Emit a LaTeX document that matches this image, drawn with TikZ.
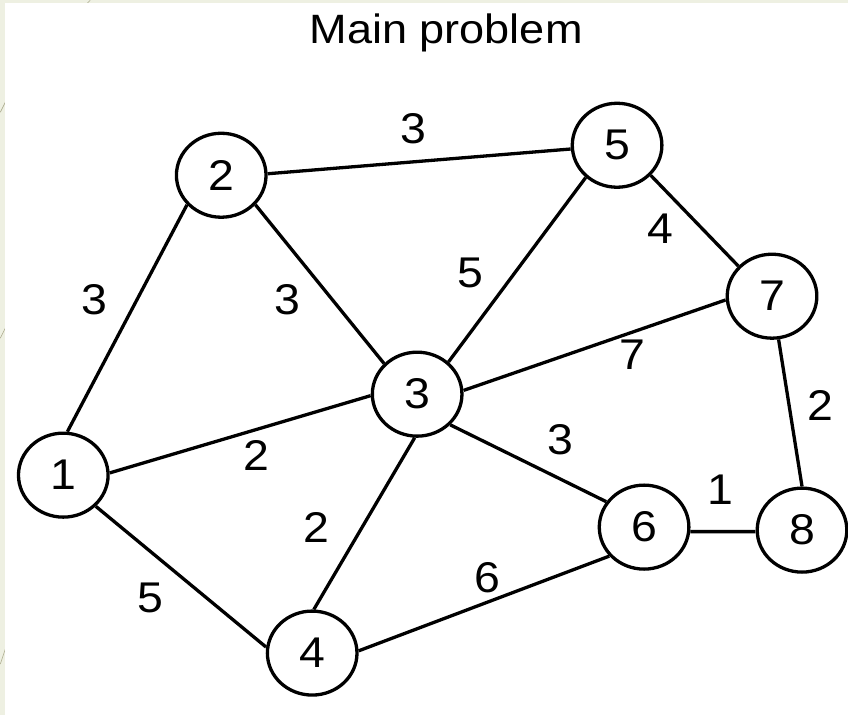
\documentclass[tikz,border=0pt]{standalone}
\usepackage{fontspec}
\setmainfont{Liberation Sans}
\usetikzlibrary{shapes.geometric}

\definecolor{slidebg}{RGB}{238,240,226}
\definecolor{slideline}{RGB}{170,170,140}

\tikzset{
  vertex/.style={ellipse, draw=black, fill=white, line width=3.3pt,
    minimum width=83pt, minimum height=84pt, inner sep=0pt,
    font=\fontsize{43}{47}\selectfont, xscale=1.08},
  edge/.style={line width=3.3pt, black},
  weight/.style={font=\fontsize{43}{47}\selectfont, inner sep=0pt, xscale=1.08},
  title/.style={font=\fontsize{41}{45}\selectfont, inner sep=0pt, xscale=1.1}
}

\begin{document}
\begin{tikzpicture}[x=1pt, y=-1pt]
  % slide background with its thin left and top margins
  \fill[slidebg] (0,0) rectangle (848,715);
  \draw[slideline, line width=0.6pt] (0,112) -- (6,100);
  \draw[slideline, line width=0.6pt] (0,338) -- (6,326);
  \draw[slideline, line width=0.6pt] (0,664) -- (8,640);
  \draw[slideline, line width=0.6pt] (86,4) -- (90,0);
  \fill[white] (5,3) rectangle (848,715);
  \useasboundingbox (0,0) rectangle (848,715);

  % heading
  \node[title, anchor=base] (head) at (446,43) {Main problem};

  % vertices
  \node[vertex] (n1) at (63,475)  {1};
  \node[vertex] (n2) at (221,175) {2};
  \node[vertex] (n3) at (417,394) {3};
  \node[vertex] (n4) at (312,653) {4};
  \node[vertex] (n5) at (617,145) {5};
  \node[vertex] (n6) at (644,527) {6};
  \node[vertex] (n7) at (772,296) {7};
  \node[vertex] (n8) at (802,530) {8};

  % edges, attached at fixed points of each border
  \draw[edge] (n1.85)  -- (n2.223);
  \draw[edge] (n1.3)   -- (n3.182);
  \draw[edge] (n1.314) -- (n4.172);
  \draw[edge] (n2.2)   -- (n5.185);
  \draw[edge] (n2.317) -- (n3.135);
  \draw[edge] (n5.228) -- (n3.48);
  \draw[edge] (n5.316) -- (n7.136);
  \draw[edge] (n3.5)   -- (n7.185);
  \draw[edge] (n3.315) -- (n6.144);
  \draw[edge] (n3.267) -- (n4.88);
  \draw[edge] (n4.3)   -- (n6.222);
  \draw[edge] (n6.354) -- (n8.182);
  \draw[edge] (n7.278) -- (n8.90);

  % edge weights
  \node[weight] (w12) at (94,300)  {3};
  \node[weight] (w23) at (287,300) {3};
  \node[weight] (w25) at (413,128) {3};
  \node[weight] (w57) at (660,228) {4};
  \node[weight] (w53) at (470,273) {5};
  \node[weight] (w37) at (632,355) {7};
  \node[weight] (w78) at (820,405) {2};
  \node[weight] (w13) at (256,455) {2};
  \node[weight] (w36) at (560,440) {3};
  \node[weight] (w68) at (720,490) {1};
  \node[weight] (w34) at (316,527) {2};
  \node[weight] (w14) at (150,598) {5};
  \node[weight] (w46) at (487,578) {6};
\end{tikzpicture}
\end{document}
